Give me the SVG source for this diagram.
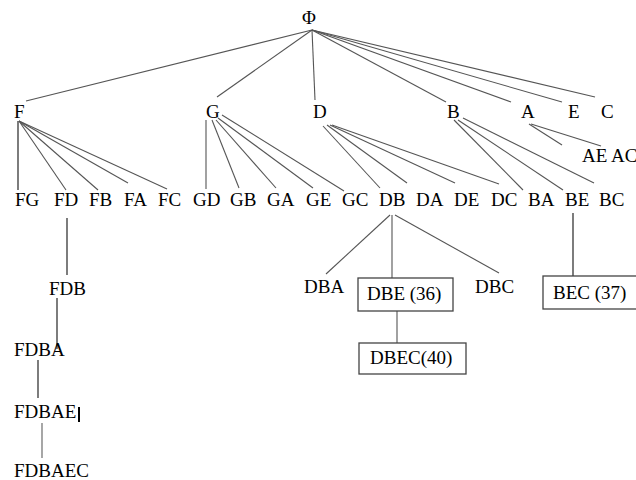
<svg xmlns="http://www.w3.org/2000/svg" width="636" height="480" viewBox="0 0 636 480" font-family="'Liberation Serif', 'Times New Roman', 'DejaVu Serif', serif">
<style>
text{font-family:'Liberation Serif','Times New Roman','DejaVu Serif',serif;font-size:19px;fill:#000}
.e line{stroke:#555;stroke-width:1.1;fill:none}
.e line.k{stroke:#111}
.box{fill:#fff;stroke:#444;stroke-width:1.3}
</style>
<rect width="636" height="480" fill="#fff"/>
<g class="e" id="connectors">
<line x1="312" y1="30" x2="26" y2="101"/>
<line x1="312" y1="30" x2="217" y2="97"/>
<line x1="312" y1="30" x2="315" y2="100"/>
<line x1="312" y1="30" x2="446" y2="102"/>
<line x1="312" y1="30" x2="511" y2="102"/>
<line x1="312" y1="30" x2="562" y2="102"/>
<line x1="312" y1="30" x2="595" y2="97"/>
<line class="k" x1="18" y1="121" x2="18" y2="190"/>
<line x1="19" y1="121" x2="66" y2="190"/>
<line x1="19" y1="121" x2="98" y2="190"/>
<line x1="19" y1="121" x2="128" y2="183"/>
<line x1="19" y1="121" x2="167" y2="189"/>
<line x1="206" y1="120" x2="206" y2="189"/>
<line x1="212" y1="120" x2="239" y2="188"/>
<line x1="216" y1="120" x2="276" y2="188"/>
<line x1="218" y1="118" x2="313" y2="188"/>
<line x1="222" y1="115" x2="344" y2="191"/>
<line x1="323" y1="126" x2="380" y2="188"/>
<line x1="327" y1="125" x2="407" y2="183"/>
<line x1="330" y1="125" x2="455" y2="183"/>
<line x1="332" y1="125" x2="499" y2="184"/>
<line x1="454" y1="120" x2="523" y2="190"/>
<line x1="458" y1="120" x2="563" y2="190"/>
<line x1="463" y1="118" x2="594" y2="183"/>
<line x1="529" y1="124" x2="562" y2="145"/>
<line x1="531" y1="124" x2="601" y2="146"/>
<line class="k" x1="67" y1="218" x2="67" y2="275"/>
<line class="k" x1="57" y1="298" x2="57" y2="349"/>
<line class="k" x1="38" y1="360" x2="38" y2="398"/>
<line x1="42" y1="423" x2="42" y2="458" style="stroke:#777;stroke-width:1.3"/>
<line x1="390" y1="215" x2="326" y2="274"/>
<line x1="392" y1="215" x2="392" y2="278"/>
<line x1="395" y1="215" x2="499" y2="273"/>
<line x1="397" y1="311" x2="397" y2="343"/>
<line class="k" x1="573" y1="213" x2="573" y2="276"/>
</g>
<g id="n-phi"><text x="302" y="24">Φ</text></g>
<g id="n-F"><text x="14" y="118">F</text></g>
<g id="n-G"><text x="206" y="118">G</text></g>
<g id="n-D"><text x="313" y="118">D</text></g>
<g id="n-B"><text x="447" y="118">B</text></g>
<g id="n-A"><text x="521" y="118">A</text></g>
<g id="n-E"><text x="568" y="118">E</text></g>
<g id="n-C"><text x="601" y="118">C</text></g>
<g id="n-AEAC"><text x="582" y="162">AE AC</text></g>
<g id="n-FG"><text x="15" y="206">FG</text></g>
<g id="n-FD"><text x="54" y="206">FD</text></g>
<g id="n-FB"><text x="89" y="206">FB</text></g>
<g id="n-FA"><text x="124" y="206">FA</text></g>
<g id="n-FC"><text x="158" y="206">FC</text></g>
<g id="n-GD"><text x="193" y="206">GD</text></g>
<g id="n-GB"><text x="230" y="206">GB</text></g>
<g id="n-GA"><text x="267" y="206">GA</text></g>
<g id="n-GE"><text x="306" y="206">GE</text></g>
<g id="n-GC"><text x="342" y="206">GC</text></g>
<g id="n-DB"><text x="379" y="206">DB</text></g>
<g id="n-DA"><text x="416" y="206">DA</text></g>
<g id="n-DE"><text x="454" y="206">DE</text></g>
<g id="n-DC"><text x="491" y="206">DC</text></g>
<g id="n-BA"><text x="528" y="206">BA</text></g>
<g id="n-BE"><text x="565" y="206">BE</text></g>
<g id="n-BC"><text x="599" y="206">BC</text></g>
<g id="n-FDB"><text x="49" y="295">FDB</text></g>
<g id="n-FDBA"><text x="14" y="356">FDBA</text></g>
<g id="n-FDBAE"><text x="14" y="418">FDBAE</text><rect x="78" y="407" width="2" height="15" fill="#000"/></g>
<g id="n-FDBAEC"><text x="14" y="477">FDBAEC</text></g>
<g id="n-DBA"><text x="304" y="293">DBA</text></g>
<g id="n-DBE"><rect class="box" x="358" y="278" width="95" height="33"/><text x="367" y="300">DBE (36)</text></g>
<g id="n-DBC"><text x="475" y="293">DBC</text></g>
<g id="n-DBEC"><rect class="box" x="359" y="343" width="107" height="31"/><text x="370" y="364">DBEC(40)</text></g>
<g id="n-BEC"><rect class="box" x="543" y="276" width="100" height="33"/><text x="553" y="299">BEC (37)</text></g>
</svg>
